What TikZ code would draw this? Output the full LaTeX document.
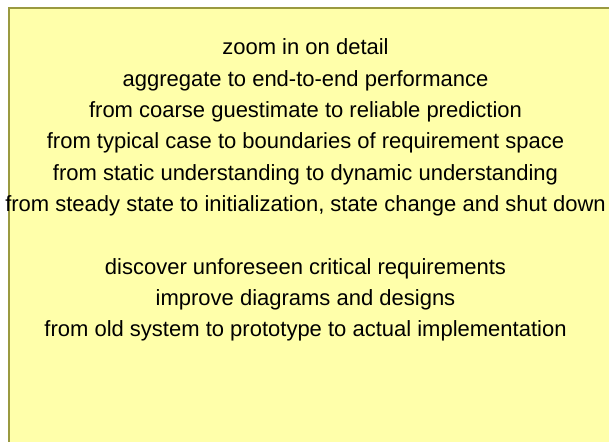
\documentclass[tikz,border=0pt]{standalone}
\usepackage{fontspec}
\setmainfont{Liberation Sans}
\definecolor{notefill}{HTML}{FFFFAA}
\definecolor{noteedge}{HTML}{9A9A40}
\tikzset{noteline/.style={font=\fontsize{22}{26}\selectfont, inner sep=0pt, anchor=base}}

\begin{document}
\begin{tikzpicture}[x=1pt,y=1pt]

  \newcommand\Y{31.3}
  \newcommand\Xc{305.5}

  \useasboundingbox (0,0) rectangle (609,-441); %% page size

  \draw[fill=notefill, draw=noteedge, line width=1.5pt] (9,-8) rectangle (630,-460);

  \node[noteline] (detail)   at (\Xc, -55-0*\Y) {zoom in on detail};
  \node[noteline] (aggr)     at (\Xc, -55-1*\Y) {aggregate to end-to-end performance};
  \node[noteline] (coarse)   at (\Xc, -55-2*\Y) {from coarse guestimate to reliable prediction};
  \node[noteline] (typical)  at (\Xc, -55-3*\Y) {from typical case to boundaries of requirement space};
  \node[noteline] (static)   at (\Xc, -55-4*\Y) {from static understanding to dynamic understanding};
  \node[noteline] (steady)   at (\Xc, -55-5*\Y) {from steady state to initialization, state change and shut down};

  \node[noteline] (discover) at (\Xc, -55-7*\Y) {discover unforeseen critical requirements};
  \node[noteline] (improve)  at (\Xc, -55-8*\Y) {improve diagrams and designs};
  \node[noteline] (oldsys)   at (\Xc, -55-9*\Y) {from old system to prototype to actual implementation};

\end{tikzpicture}
\end{document}
